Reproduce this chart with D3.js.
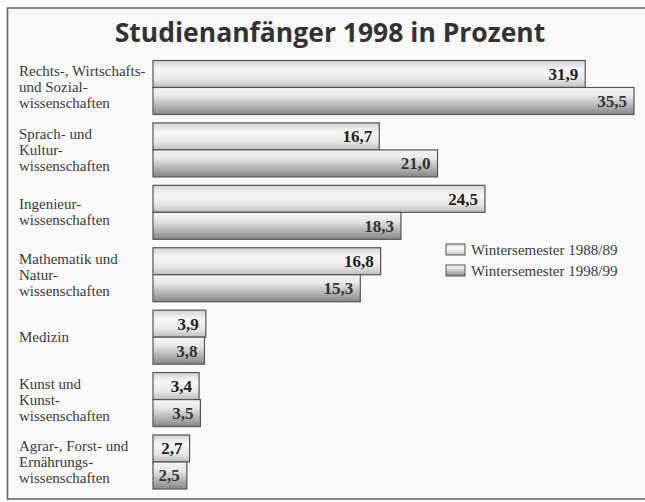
<!DOCTYPE html>
<html lang="de">
<head>
    <meta charset="UTF-8">
    <title>Studienanfänger 1998</title>
    <style>
        body { margin: 0; background: #fff; }
        svg { display: block; }
    </style>
</head>
<body>
    <svg id="chart"></svg>

    <script src="https://d3js.org/d3.v7.min.js"></script>
    <script>
        // Data
        var categories = [
            ["Rechts-, Wirtschafts-", "und Sozial-", "wissenschaften"],
            ["Sprach- und", "Kultur-", "wissenschaften"],
            ["Ingenieur-", "wissenschaften"],
            ["Mathematik und", "Natur-", "wissenschaften"],
            ["Medizin"],
            ["Kunst und", "Kunst-", "wissenschaften"],
            ["Agrar-, Forst- und", "Ernährungs-", "wissenschaften"]
        ];
        var series = ["Wintersemester 1988/89", "Wintersemester 1998/99"];
        var ws8889 = [31.9, 16.7, 24.5, 16.8, 3.9, 3.4, 2.7];
        var ws9899 = [35.5, 21.0, 18.3, 15.3, 3.8, 3.5, 2.5];

        // Constants
        var width = 645, height = 502;

        var svg = d3.select("#chart")
            .attr("width", width)
            .attr("height", height);

        // gradients
        var defs = svg.append("defs");
        var g1 = defs.append("linearGradient")
            .attr("id", "grad0")
            .attr("x1", 0).attr("y1", 0).attr("x2", 0).attr("y2", 1);
        g1.append("stop").attr("offset", "0%").attr("stop-color", "#d4d4d4");
        g1.append("stop").attr("offset", "35%").attr("stop-color", "#f7f7f7");
        g1.append("stop").attr("offset", "70%").attr("stop-color", "#e6e6e6");
        g1.append("stop").attr("offset", "100%").attr("stop-color", "#bdbdbd");

        var g2 = defs.append("linearGradient")
            .attr("id", "grad1")
            .attr("x1", 0).attr("y1", 0).attr("x2", 0).attr("y2", 1);
        g2.append("stop").attr("offset", "0%").attr("stop-color", "#f4f4f4");
        g2.append("stop").attr("offset", "30%").attr("stop-color", "#e8e8e8");
        g2.append("stop").attr("offset", "75%").attr("stop-color", "#a9a9a9");
        g2.append("stop").attr("offset", "100%").attr("stop-color", "#858585");

        // background and frame (right edge runs off the picture)
        svg.append("rect")
            .attr("x", 7.5).attr("y", 8)
            .attr("width", 650).attr("height", 491)
            .attr("fill", "#fafafa")
            .attr("stroke", "#6a6a6a")
            .attr("stroke-width", 1.6);

        // title
        svg.append("text")
            .attr("x", 330)
            .attr("y", 42)
            .attr("text-anchor", "middle")
            .attr("font-family", "'Open Sans', sans-serif")
            .attr("font-weight", 700)
            .attr("font-size", 26.5)
            .attr("fill", "#333")
            .text("Studienanfänger 1998 in Prozent");

        // scales
        var x = d3.scaleLinear()
            .domain([0, 35.5])
            .range([153, 634]);

        var y = d3.scaleBand()
            .domain(d3.range(categories.length))
            .range([60.5, 489])
            .paddingInner(0.135)
            .paddingOuter(0);

        var ys = d3.scaleBand()
            .domain(series)
            .range([0, y.bandwidth()]);

        var de = d3.formatLocale({ decimal: ",", thousands: ".", grouping: [3], currency: ["", " €"] });
        var fmt = de.format(".1f");

        var rows = categories.map(function (c, i) {
            return { i: i, lines: c, vals: [ws8889[i], ws9899[i]] };
        });

        var groups = svg.selectAll("g.group")
            .data(rows)
            .enter()
            .append("g")
            .attr("class", "group")
            .attr("transform", function (d) { return "translate(0," + y(d.i) + ")"; });

        // category labels
        groups.each(function (d) {
            var g = d3.select(this);
            var n = d.lines.length;
            var lh = 16;
            var top = y.bandwidth() / 2 - (n - 1) * lh / 2 + 5;
            var t = g.append("text")
                .attr("font-family", "'Liberation Serif', serif")
                .attr("font-size", 15)
                .attr("fill", "#3a3a3a");
            d.lines.forEach(function (l, k) {
                t.append("tspan")
                    .attr("x", 19)
                    .attr("y", top + k * lh)
                    .text(l);
            });
        });

        // bars
        groups.each(function (d) {
            var g = d3.select(this);
            series.forEach(function (s, k) {
                var v = d.vals[k];
                g.append("rect")
                    .attr("x", x(0))
                    .attr("y", ys(s))
                    .attr("width", x(v) - x(0))
                    .attr("height", ys.bandwidth())
                    .attr("fill", "url(#grad" + k + ")")
                    .attr("stroke", "#555")
                    .attr("stroke-width", 1.2);
                g.append("text")
                    .attr("x", x(v) - 7)
                    .attr("y", ys(s) + ys.bandwidth() / 2 + 6)
                    .attr("text-anchor", "end")
                    .attr("font-family", "'Liberation Serif', serif")
                    .attr("font-weight", 700)
                    .attr("font-size", 17)
                    .attr("fill", k === 0 ? "#222" : "#333")
                    .text(fmt(v));
            });
        });

        // legend
        var legend = svg.append("g")
            .attr("transform", "translate(446,244)");
        series.forEach(function (s, k) {
            var lg = legend.append("g")
                .attr("transform", "translate(0," + (k * 21) + ")");
            lg.append("rect")
                .attr("width", 19)
                .attr("height", 11)
                .attr("fill", "url(#grad" + k + ")")
                .attr("stroke", "#555")
                .attr("stroke-width", 1);
            lg.append("text")
                .attr("x", 25)
                .attr("y", 10.5)
                .attr("font-family", "'Liberation Serif', serif")
                .attr("font-size", 15)
                .attr("fill", "#3a3a3a")
                .text(s);
        });
    </script>
</body>
</html>
